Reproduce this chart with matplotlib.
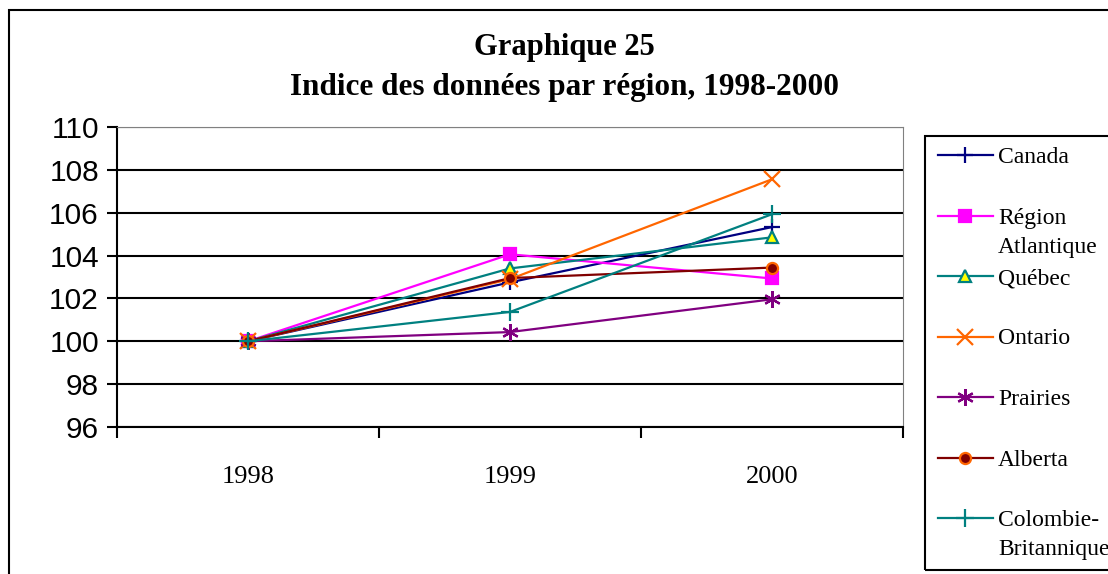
import matplotlib
matplotlib.use('Agg')
import matplotlib.pyplot as plt
from matplotlib.patches import Rectangle
from matplotlib.lines import Line2D

years = ['1998', '1999', '2000']

canada = [100.0, 102.75, 105.33]
atlantique = [100.0, 104.06, 102.93]
quebec = [100.0, 103.4, 104.85]
ontario = [100.0, 102.9, 107.56]
prairies = [100.0, 100.43, 101.96]
alberta = [100.0, 102.95, 103.44]
colombie = [100.0, 101.37, 105.93]

labels = ['Canada', 'Région\nAtlantique', 'Québec', 'Ontario', 'Prairies',
          'Alberta', 'Colombie-\nBritannique']

# style per series: colour, marker, marker face, marker edge, size
styles = [
    ('#000080', '+', '#000080', '#000080', 11),
    ('#FF00FF', 's', '#FF00FF', '#FF00FF', 8),
    ('#008080', '^', '#FFFF00', '#008080', 9),
    ('#FF6600', 'x', '#FF6600', '#FF6600', 11),
    ('#800080', (6, 2, 0), '#800080', '#800080', 12),
    ('#800000', 'o', '#800000', '#FF6600', 8),
    ('#008080', '+', '#008080', '#008080', 13),
]
series = [canada, atlantique, quebec, ontario, prairies, alberta, colombie]

serif = 'Liberation Serif'
sans = 'Liberation Sans'

fig = plt.figure(figsize=(11.08, 5.74), dpi=100)
ax = fig.add_axes([117 / 1108, 1 - 427 / 574, 786 / 1108, 300 / 574])

x = list(range(len(years)))
for vals, (col, mk, fc, ec, ms) in zip(series, styles):
    ax.plot(x, vals, color=col, lw=1.6, marker=mk, ms=ms,
            mfc=fc, mec=ec, mew=1.6)

ax.set_xlim(-0.5, 2.5)
ax.set_ylim(96, 110)
ax.set_yticks(range(96, 111, 2))
ax.set_xticks([-0.5, 0.5, 1.5, 2.5])
ax.set_xticklabels([])
ax.set_xticks(x, minor=True)
ax.set_xticklabels(years, minor=True, fontfamily=serif, fontsize=19)
ax.tick_params(axis='x', which='minor', length=0, pad=28)
ax.tick_params(axis='x', which='major', length=8, width=1.5, direction='out')
ax.tick_params(axis='y', length=7, width=1.5, pad=6, labelsize=21.5)
for t in ax.get_yticklabels():
    t.set_fontfamily(sans)
ax.grid(axis='y', color='black', lw=1.5)
ax.set_axisbelow(True)
ax.spines['top'].set_color('#808080')
ax.spines['right'].set_color('#808080')
ax.spines['top'].set_zorder(3)
for s in ['left', 'bottom']:
    ax.spines[s].set_linewidth(1.5)

fig.text(564 / 1108, 1 - 47 / 574, 'Graphique 25', ha='center', va='center',
         fontfamily=serif, fontweight='bold', fontsize=22)
fig.text(564 / 1108, 1 - 88 / 574, 'Indice des données par région, 1998-2000',
         ha='center', va='center', fontfamily=serif, fontweight='bold',
         fontsize=22.5)

# outer chart frame (runs off right and bottom edges)
fig.patches.append(Rectangle((9 / 1108, -0.1), 1.2, 1 - 10 / 574 + 0.1,
                             transform=fig.transFigure, fill=False,
                             ec='black', lw=1.5))

# legend box drawn by hand so the key sits on the first line of the label
fig.patches.append(Rectangle((925 / 1108, 1 - 570 / 574), 0.3,
                             (570 - 136) / 574, transform=fig.transFigure,
                             fill=False, ec='black', lw=1.5))
for i, (lab, (col, mk, fc, ec, ms)) in enumerate(zip(labels, styles)):
    yy = 1 - (155 + i * 60.5) / 574
    fig.lines.append(Line2D([938 / 1108, 993 / 1108], [yy, yy],
                            transform=fig.transFigure, color=col, lw=1.6))
    fig.lines.append(Line2D([965 / 1108], [yy], transform=fig.transFigure,
                            marker=mk, ms=ms, mfc=fc, mec=ec, mew=1.6,
                            color=col, ls='none'))
    fig.text(998 / 1108, yy + 8 / 574, lab, ha='left', va='top',
             fontfamily=serif, fontsize=17, linespacing=1.5)

fig.savefig('out.png', dpi=100)
